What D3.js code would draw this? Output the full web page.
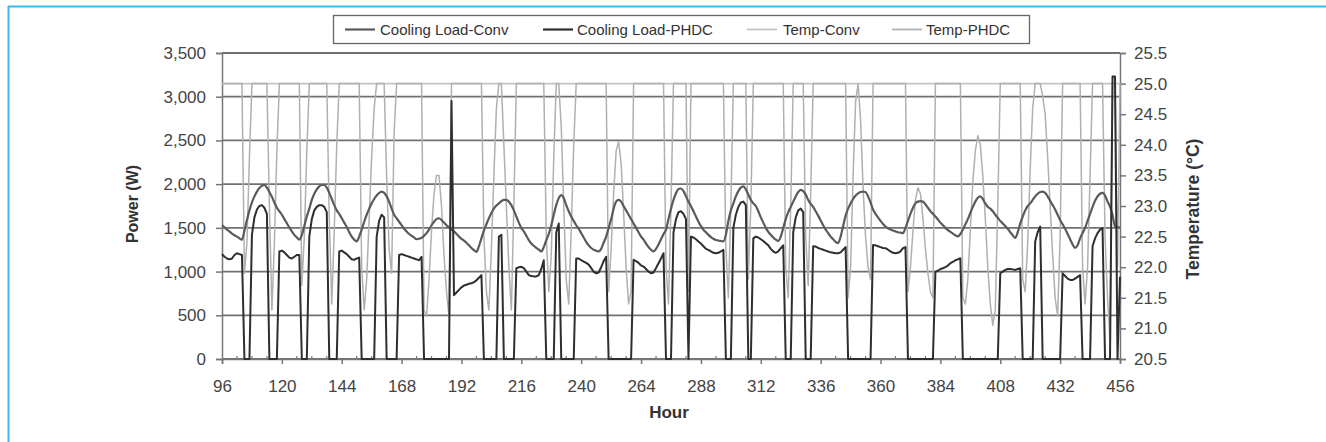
<!DOCTYPE html>
<html><head><meta charset="utf-8">
<script src="https://cdn.jsdelivr.net/npm/d3@7"></script>
<style>
body{margin:0;background:#fff;}
svg{display:block;font-family:"Liberation Sans",Arial,sans-serif;}
</style></head>
<body>
<script>
// ---- data (hours 96..456, hourly) ----
const startHour = 96, endHour = 456;
const hours = d3.range(startHour, endHour + 1);
const xTicks = [96,120,144,168,192,216,240,264,288,312,336,360,384,408,432,456];
const yLeftTicks = [0,500,1000,1500,2000,2500,3000,3500];
const yRightTicks = [20.5,21,21.5,22,22.5,23,23.5,24,24.5,25,25.5];
const seriesNames = ["Cooling Load-Conv","Cooling Load-PHDC","Temp-Conv","Temp-PHDC"];

const coolingLoadConv = [
1530,1505,1480,1458,1435,1415,1400,1380,1365,1470,1590,1700,
1790,1860,1915,1955,1980,1990,1960,1910,1855,1790,1730,1690,
1650,1600,1553,1505,1460,1420,1390,1365,1420,1520,1630,1720,
1820,1890,1940,1975,1990,1990,1960,1900,1830,1760,1700,1660,
1610,1560,1510,1450,1400,1365,1345,1400,1480,1570,1650,1720,
1780,1830,1870,1900,1915,1900,1860,1800,1720,1650,1610,1570,
1530,1490,1458,1430,1410,1390,1370,1375,1385,1410,1440,1480,
1530,1570,1600,1610,1590,1560,1530,1505,1480,1460,1430,1400,
1375,1355,1330,1300,1270,1245,1225,1290,1380,1470,1540,1610,
1670,1720,1755,1780,1805,1820,1820,1800,1760,1700,1630,1560,
1500,1460,1410,1360,1320,1295,1270,1250,1230,1280,1360,1430,
1530,1650,1760,1840,1875,1840,1760,1690,1630,1580,1530,1490,
1440,1390,1340,1300,1270,1250,1240,1230,1260,1330,1400,1500,
1600,1720,1800,1820,1800,1750,1700,1650,1600,1550,1500,1450,
1400,1365,1320,1280,1250,1230,1260,1310,1370,1430,1480,1600,
1720,1820,1895,1945,1950,1920,1860,1800,1750,1690,1630,1570,
1520,1477,1450,1420,1395,1375,1362,1355,1350,1345,1420,1580,
1700,1780,1860,1920,1960,1975,1940,1880,1820,1780,1750,1690,
1620,1560,1500,1455,1420,1390,1365,1350,1400,1500,1600,1680,
1740,1800,1860,1910,1935,1920,1880,1820,1775,1740,1690,1640,
1585,1530,1480,1440,1400,1370,1340,1325,1400,1520,1640,1720,
1780,1830,1870,1895,1910,1915,1910,1860,1790,1710,1660,1620,
1580,1545,1515,1495,1480,1470,1460,1450,1445,1440,1500,1580,
1660,1730,1780,1800,1805,1800,1770,1730,1690,1660,1630,1595,
1560,1530,1500,1475,1455,1435,1415,1403,1430,1480,1540,1600,
1670,1740,1800,1845,1860,1830,1780,1740,1720,1690,1650,1615,
1580,1550,1520,1490,1450,1415,1385,1450,1550,1630,1700,1750,
1780,1820,1860,1890,1910,1915,1900,1860,1810,1760,1710,1650,
1590,1540,1490,1430,1370,1310,1270,1300,1380,1440,1500,1580,
1660,1740,1810,1860,1890,1900,1870,1800,1744,1650,1520,1510,
1500];

const coolingLoadPHDC = [
1200,1170,1150,1140,1150,1190,1210,1200,1190,0,0,0,
1420,1620,1710,1750,1760,1730,1660,0,0,0,0,1230,
1240,1220,1190,1160,1150,1170,1190,1190,0,0,0,1400,
1600,1700,1740,1760,1760,1740,1680,0,0,0,0,1230,
1240,1220,1200,1170,1140,1135,1150,1160,0,0,0,0,
0,0,1400,1580,1650,1620,0,0,0,0,0,1190,
1200,1190,1180,1170,1160,1150,1140,1130,1170,0,0,0,
0,0,0,0,0,0,0,0,2950,730,760,790,
820,840,850,860,866,880,900,930,960,0,0,0,
0,0,0,1400,1420,0,0,0,0,0,1040,1050,
1055,1040,1000,960,950,945,945,960,1030,1130,0,0,
0,0,1450,1550,0,0,0,0,0,0,1150,1150,
1130,1115,1100,1080,1040,1000,980,990,1050,1120,1170,0,
0,0,0,0,0,0,0,0,0,1134,1120,1100,
1070,1057,1030,1000,981,990,1040,1096,1150,1210,0,0,
0,1450,1600,1680,1690,1660,1600,0,1400,1390,1370,1344,
1320,1290,1260,1248,1230,1215,1210,1215,1230,1250,0,0,
0,1500,1650,1740,1790,1800,1760,0,0,1380,1400,1390,
1370,1350,1325,1300,1260,1230,1215,1230,1267,1300,0,0,
0,1450,1620,1700,1720,1680,0,0,0,1290,1286,1270,
1260,1250,1240,1229,1220,1215,1210,1210,1220,1250,1280,0,
0,0,0,0,0,0,0,0,0,1305,1300,1290,
1280,1270,1267,1250,1230,1215,1210,1215,1230,1267,1280,0,
0,0,0,0,0,0,0,0,0,0,1000,1010,
1030,1038,1050,1070,1096,1110,1130,1140,1153,0,0,0,
0,0,0,0,0,0,0,0,0,0,0,0,
981,1000,1019,1030,1030,1025,1019,1030,1038,0,0,0,
0,0,1344,1450,1515,0,0,0,0,0,0,0,
0,980,950,920,905,905,920,940,960,0,0,0,
0,1290,1380,1440,1480,1496,0,0,0,3230,3230,0,
940];

const tempConvHours = [96, 456];
const tempConv = [25.0, 25.0];

const tempPHDC = [
25,25,25,25,25,25,25,25,25,21.9,22.4,23.8,
25,25,25,25,25,25,25,23.0,21.3,22.4,23.9,25,
25,25,25,25,25,25,25,25,21.7,22.5,23.9,25,
25,25,25,25,25,25,25,22.8,21.4,22.6,24.0,25,
25,25,25,25,25,25,25,25,22.0,21.3,21.8,22.8,
23.8,24.6,25,25,25,25,23.5,22.3,21.9,24.2,25,25,
25,25,25,25,25,25,25,25,25,21.3,21.2,21.8,
22.6,23.2,23.5,23.5,23.0,22.2,21.6,21.2,25,25,25,25,
25,25,25,25,25,25,25,25,25,22.5,21.6,21.3,
22.3,23.5,24.6,25,25,24.0,23.0,22.0,21.3,23.0,25,25,
25,25,25,25,25,25,25,25,25,25,22.5,21.6,
22.2,23.8,25,25,24.3,23.0,21.8,21.4,22.6,24.0,25,25,
25,25,25,25,25,25,25,25,25,25,25,21.6,
22.3,23.2,23.9,24.05,23.7,22.9,22.0,21.4,21.6,25,25,25,
25,25,25,25,25,25,25,25,25,25,22.0,21.4,
23.0,25,25,25,25,25,25,21.6,25,25,25,25,
25,25,25,25,25,25,25,25,25,25,22.3,21.5,
23.0,25,25,25,25,25,25,21.8,23.0,25,25,25,
25,25,25,25,25,25,25,25,25,25,22.0,21.5,
23.0,25,25,25,25,25,22.5,21.7,23.2,25,25,25,
25,25,25,25,25,25,25,25,25,25,25,21.5,
22.0,23.5,24.7,25.0,24.4,23.3,22.5,22.0,21.8,25,25,25,
25,25,25,25,25,25,25,25,25,25,25,21.6,
22.0,22.6,23.1,23.3,23.2,22.8,22.3,21.9,21.6,21.5,25,25,
25,25,25,25,25,25,25,25,25,21.5,21.4,21.8,
22.6,23.4,23.9,24.15,24.0,23.5,22.8,22.0,21.4,21.05,21.3,23.0,
25,25,25,25,25,25,25,25,25,21.8,21.6,22.4,
23.6,24.6,25,25,25,24.8,24.5,23.8,23.0,22.2,21.5,21.2,
22.5,25,25,25,25,25,25,25,25,22.0,21.4,22.0,
23.5,25,25,25,25,25,22.5,21.5,20.8,25,25,22.0,
25];

// ---- chart ----
const W = 1326, H = 442;
const svg = d3.select("body").append("svg").attr("width", W).attr("height", H);
svg.append("rect").attr("width", W).attr("height", H).attr("fill", "#fff");

// blue frame
svg.append("line").attr("x1", 8).attr("y1", 6.5).attr("x2", W).attr("y2", 6.5)
  .attr("stroke", "#3ab7ee").attr("stroke-width", 2);
svg.append("line").attr("x1", 8.5).attr("y1", 6).attr("x2", 8.5).attr("y2", H)
  .attr("stroke", "#3ab7ee").attr("stroke-width", 2);

const x = d3.scaleLinear().domain([startHour, endHour]).range([222, 1120]);
const yL = d3.scaleLinear().domain([0, 3500]).range([359, 53]);
const yR = d3.scaleLinear().domain([20.5, 25.5]).range([359, 53]);

// gridlines
svg.append("g").selectAll("line").data(yLeftTicks).join("line")
  .attr("x1", x(startHour)).attr("x2", x(endHour))
  .attr("y1", d => yL(d)).attr("y2", d => yL(d))
  .attr("stroke", "#707070").attr("stroke-width", 1.8);

const tickFont = g => g.selectAll("text")
  .attr("font-size", 17).attr("fill", "#444")
  .attr("font-family", "'Liberation Sans', Arial, sans-serif");

// left axis
const gl = svg.append("g").attr("transform", "translate(222,0)")
  .call(d3.axisLeft(yL).tickValues(yLeftTicks).tickFormat(d3.format(",")).tickSize(6).tickPadding(10));
gl.select(".domain").attr("stroke", "#777").attr("stroke-width", 1.5);
gl.selectAll(".tick line").attr("stroke", "#777").attr("stroke-width", 1.5);
tickFont(gl);

// right axis
const gr = svg.append("g").attr("transform", "translate(1120,0)")
  .call(d3.axisRight(yR).tickValues(yRightTicks).tickFormat(d3.format(".1f")).tickSize(6).tickPadding(8));
gr.select(".domain").attr("stroke", "#777").attr("stroke-width", 1.5);
gr.selectAll(".tick line").attr("stroke", "#777").attr("stroke-width", 1.5);
tickFont(gr);

// bottom axis
const gb = svg.append("g").attr("transform", "translate(0,359)")
  .call(d3.axisBottom(x).tickValues(xTicks).tickFormat(d3.format("d")).tickSize(5).tickPadding(16));
gb.select(".domain").attr("stroke", "#777").attr("stroke-width", 1.5);
gb.selectAll(".tick line").attr("stroke", "#777").attr("stroke-width", 1.5);
tickFont(gb);
// minor ticks every 6 hours
const minor = hours.filter(h => h % 6 === 0 && h % 24 !== 0);
svg.append("g").selectAll("line").data(minor).join("line")
  .attr("x1", d => x(d)).attr("x2", d => x(d)).attr("y1", 359).attr("y2", 356)
  .attr("stroke", "#777").attr("stroke-width", 1.2);

// series
const plot = svg.append("g");
const lineR = d3.line().x(d => x(d[0])).y(d => yR(d[1]));
const lineL = d3.line().x(d => x(d[0])).y(d => yL(d[1]));
const lineSmooth = d3.line().x(d => x(d[0])).y(d => yL(d[1])).curve(d3.curveMonotoneX);

plot.append("path").datum(tempConvHours.map((h, i) => [h, tempConv[i]]))
  .attr("d", lineR).attr("fill", "none").attr("stroke", "#c4c4c4").attr("stroke-width", 1.6);
plot.append("path").datum(hours.map((h, i) => [h, tempPHDC[i]]))
  .attr("d", lineR).attr("fill", "none").attr("stroke", "#b0b0b0").attr("stroke-width", 1.5)
  .attr("stroke-linejoin", "round");
plot.append("path").datum(hours.map((h, i) => [h, coolingLoadConv[i]]))
  .attr("d", lineSmooth).attr("fill", "none").attr("stroke", "#5a5a5a").attr("stroke-width", 2.2);
plot.append("path").datum(hours.map((h, i) => [h, coolingLoadPHDC[i]]))
  .attr("d", lineL).attr("fill", "none").attr("stroke", "#2e2e2e").attr("stroke-width", 2)
  .attr("stroke-linejoin", "round");

// titles
svg.append("text").attr("transform", "translate(138,204) rotate(-90)")
  .attr("text-anchor", "middle").attr("font-weight", "bold").attr("font-size", 16)
  .attr("fill", "#333").text("Power (W)");
svg.append("text").attr("transform", "translate(1199,209) rotate(-90)")
  .attr("text-anchor", "middle").attr("font-weight", "bold").attr("font-size", 17.5)
  .attr("fill", "#333").text("Temperature (°C)");
svg.append("text").attr("x", 669).attr("y", 418)
  .attr("text-anchor", "middle").attr("font-weight", "bold").attr("font-size", 17)
  .attr("fill", "#333").text("Hour");

// legend
const lg = svg.append("g");
lg.append("rect").attr("x", 333.5).attr("y", 15.5).attr("width", 696).attr("height", 28)
  .attr("fill", "#fff").attr("stroke", "#666").attr("stroke-width", 1.3);
const legendItems = [
  {name: seriesNames[0], x0: 345, tx: 380, color: "#5a5a5a", w: 2.2},
  {name: seriesNames[1], x0: 543, tx: 577, color: "#2e2e2e", w: 2.2},
  {name: seriesNames[2], x0: 747, tx: 783, color: "#c4c4c4", w: 1.8},
  {name: seriesNames[3], x0: 892, tx: 926, color: "#b0b0b0", w: 1.8}
];
legendItems.forEach(it => {
  lg.append("line").attr("x1", it.x0).attr("x2", it.x0 + 30).attr("y1", 29.5).attr("y2", 29.5)
    .attr("stroke", it.color).attr("stroke-width", it.w);
  lg.append("text").attr("x", it.tx).attr("y", 35).attr("font-size", 15).attr("fill", "#333")
    .text(it.name);
});
</script>
</body></html>
